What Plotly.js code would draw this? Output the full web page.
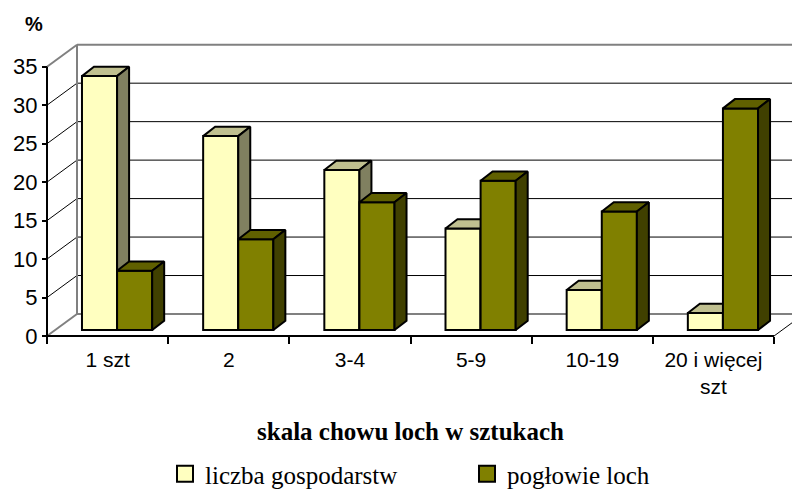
<!DOCTYPE html>
<html><head><meta charset="utf-8">
<script src="https://cdn.plot.ly/plotly-3.0.1.min.js"></script>
<style>html,body{margin:0;padding:0;background:#fff}#chart{width:792px;height:489px}</style>
</head><body><div id="chart"></div>
<script>
// ---- data ----
const categories = ['1 szt', '2', '3-4', '5-9', '10-19', '20 i więcej<br>szt'];
const seriesNames = ['liczba gospodarstw', 'pogłowie loch'];
const liczbaGospodarstw = [33.0, 25.2, 20.8, 13.2, 5.2, 2.2];
const poglowieLoch = [7.7, 11.8, 16.6, 19.4, 15.4, 28.8];
const yTickValues = [0, 5, 10, 15, 20, 25, 30, 35];
const xAxisTitle = 'skala chowu loch w sztukach';
const yUnitLabel = '%';

// ---- geometry / style ----
const plotL = 41, plotR = 792, plotT = 40, plotB = 345;
const axisXpx = 47, axisYpx = 336;
const pxPerCat = 121.17, pxPerUnit = 7.694;
const wallDX = 30, wallDY = 22;
const barBasePx = 6, barWpx = 35.1, barLeftPx = -25.6, depthDXpx = 12, depthDYpx = 9.3;

const xRange = [-0.5 - (axisXpx - plotL) / pxPerCat, -0.5 + (plotR - axisXpx) / pxPerCat];
const yRange = [-(plotB - axisYpx) / pxPerUnit, (axisYpx - plotT) / pxPerUnit];
const DXu = wallDX / pxPerCat, DYu = wallDY / pxPerUnit;
const base = barBasePx / pxPerUnit;
const barW = barWpx / pxPerCat;
const creamOff = barLeftPx / pxPerCat;
const greenOff = creamOff + barW;
const dDX = depthDXpx / pxPerCat, dDY = depthDYpx / pxPerUnit;

const cream = {front: '#FFFFC0', top: '#C0C090', side: '#808060'};
const olive = {front: '#808000', top: '#606000', side: '#404000'};
const idx = categories.map((c, i) => i);
const x0 = -0.5, x1 = categories.length - 0.5;
const yMax = yTickValues[yTickValues.length - 1];

function faces(values, off) {
  const top = {x: [], y: []}, side = {x: [], y: []};
  values.forEach((v, i) => {
    const xl = i + off, xr = xl + barW, t = base + v;
    top.x.push(xl, xr, xr + dDX, xl + dDX, xl, null);
    top.y.push(t, t, t + dDY, t + dDY, t, null);
    side.x.push(xr, xr, xr + dDX, xr + dDX, xr, null);
    side.y.push(base, t, t + dDY, base + dDY, base, null);
  });
  return {top, side};
}

function seriesTraces(values, name, off, col, xa, ya) {
  const f = faces(values, off);
  return [
    {type: 'bar', x: idx, y: values, base: base, width: barW, offset: off, name: name,
     legendgroup: name, showlegend: false,
     xaxis: xa, yaxis: ya, marker: {color: col.front, line: {color: '#000', width: 2}}, hoverinfo: 'skip'},
    {type: 'scatter', mode: 'lines', x: f.top.x, y: f.top.y, fill: 'toself', fillcolor: col.top,
     legendgroup: name, line: {color: '#000', width: 2}, showlegend: false, xaxis: xa, yaxis: ya, hoverinfo: 'skip'},
    {type: 'scatter', mode: 'lines', x: f.side.x, y: f.side.y, fill: 'toself', fillcolor: col.side,
     legendgroup: name, line: {color: '#000', width: 2}, showlegend: false, xaxis: xa, yaxis: ya, hoverinfo: 'skip'},
    // legend swatch for the series (no data points of its own)
    {type: 'scatter', mode: 'markers', x: [null], y: [null], name: name, legendgroup: name,
     marker: {symbol: 'square', size: 16, color: col.front, line: {color: '#000', width: 2}},
     xaxis: xa, yaxis: ya, hoverinfo: 'skip'}
  ];
}

const traces = [].concat(
  seriesTraces(liczbaGospodarstw, seriesNames[0], creamOff, cream, 'x', 'y'),
  seriesTraces(poglowieLoch, seriesNames[1], greenOff, olive, 'x2', 'y2')
);

const shapes = [];
function ln(xa, ya, xb, yb, color, width, layer) {
  shapes.push({type: 'line', xref: 'x', yref: 'y', x0: xa, y0: ya, x1: xb, y1: yb,
               line: {color: color, width: width}, layer: layer || 'below'});
}
yTickValues.forEach((v, k) => {
  const edge = (k === 0 || k === yTickValues.length - 1);
  const col = edge ? '#808080' : '#000';
  const w = edge ? 2 : 1;
  ln(x0 + DXu, v + DYu, x1 + DXu + 1, v + DYu, col, w);
  ln(x0, v, x0 + DXu, v + DYu, col, w);
});
ln(x0 + DXu, DYu, x0 + DXu, yMax + DYu, '#808080', 2);
ln(x1, 0, x1 + DXu, DYu, '#000', 1);
ln(x0, 0, x1, 0, '#000', 2, 'above');
ln(x0, 0, x0, yMax, '#000', 2, 'above');

const sans = 'Liberation Sans, Arial, sans-serif';
const serif = 'Liberation Serif';
const plotW = plotR - plotL, plotH = plotB - plotT;

const layout = {
  width: 792, height: 489,
  font: {family: serif, size: 25, color: '#000'},
  margin: {l: plotL, r: 792 - plotR, t: plotT, b: 489 - plotB, pad: 0, autoexpand: false},
  paper_bgcolor: '#fff', plot_bgcolor: 'rgba(0,0,0,0)',
  barmode: 'overlay',
  showlegend: true,
  xaxis: {range: xRange, domain: [0, 1], anchor: 'free', position: (plotB - axisYpx) / plotH,
          tickmode: 'array', tickvals: idx, ticktext: categories, ticks: '', ticklabelstandoff: 9,
          showgrid: false, zeroline: false, showline: false, fixedrange: true,
          tickfont: {family: sans, size: 21, color: '#000'},
          minor: {tickmode: 'array', tickvals: idx.concat([categories.length]).map(i => i - 0.5),
                  ticks: 'outside', ticklen: 7, tickwidth: 2, tickcolor: '#000', showgrid: false}},
  yaxis: {range: yRange, domain: [0, 1], anchor: 'free', position: (axisXpx - plotL) / plotW,
          tickmode: 'array', tickvals: yTickValues, ticks: 'outside', ticklen: 5, tickwidth: 2,
          tickcolor: '#000', showgrid: false, zeroline: false, showline: false, fixedrange: true,
          tickfont: {family: sans, size: 22, color: '#000'}},
  xaxis2: {range: xRange, domain: [0, 1], overlaying: 'x', anchor: 'y2', visible: false, fixedrange: true},
  yaxis2: {range: yRange, domain: [0, 1], overlaying: 'y', anchor: 'x2', visible: false, fixedrange: true},
  shapes: shapes,
  annotations: [
    {text: yUnitLabel, xref: 'paper', yref: 'paper', x: (34 - plotL) / plotW, y: (plotB - 24) / plotH,
     xanchor: 'center', yanchor: 'middle', showarrow: false,
     font: {family: sans, size: 20, color: '#000', weight: 'bold'}},
    {text: xAxisTitle, xref: 'x', yref: 'paper', x: (x0 + x1) / 2, y: (plotB - 431) / plotH,
     xanchor: 'center', yanchor: 'middle', showarrow: false,
     font: {family: serif, size: 25, color: '#000', weight: 'bold'}}
  ],
  legend: {orientation: 'h', xref: 'container', yref: 'paper', x: 165 / 792, y: (plotB - 474) / plotH,
           xanchor: 'left', yanchor: 'middle', traceorder: 'normal', entrywidth: 257, itemsizing: 'trace',
           font: {family: serif, size: 25, color: '#000'}, bgcolor: 'rgba(0,0,0,0)'}
};

Plotly.newPlot('chart', traces, layout, {displayModeBar: false, staticPlot: true});
</script>
</body></html>
